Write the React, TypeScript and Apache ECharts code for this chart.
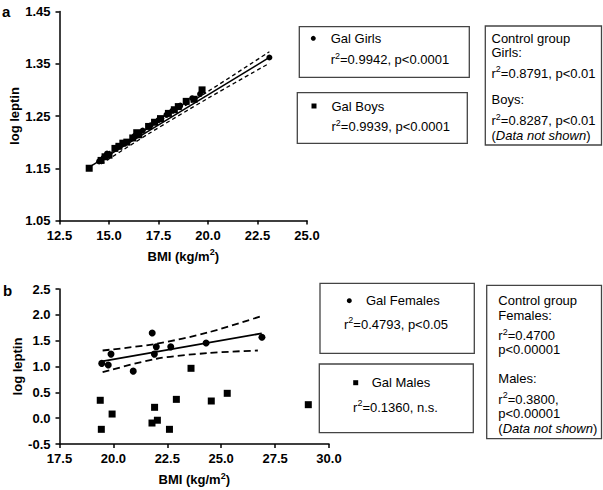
import React, { useEffect, useRef } from "react";
import * as echarts from "echarts";

const FONT = "'Liberation Sans', Arial, Helvetica, sans-serif";

// ---------- Panel a ----------
const xTicksA = [12.5, 15.0, 17.5, 20.0, 22.5, 25.0];
const yTicksA = [1.05, 1.15, 1.25, 1.35, 1.45];

const girlsBMI = [14.5, 14.9, 15.4, 15.8, 16.3, 16.7, 17.1, 17.5, 17.9, 18.2, 18.6, 18.9, 19.2, 19.6, 23.1];
const girlsLogLeptin = [1.163, 1.178, 1.19, 1.198, 1.212, 1.222, 1.232, 1.242, 1.252, 1.26, 1.27, 1.276, 1.284, 1.292, 1.362];

const boysBMI = [14.0, 14.6, 14.8, 15.0, 15.3, 15.5, 15.7, 15.9, 16.2, 16.4, 16.5, 17.0, 17.3, 17.6, 18.0, 18.3, 18.5, 18.9, 19.3, 19.7];
const boysLogLeptin = [1.15, 1.165, 1.172, 1.175, 1.188, 1.192, 1.198, 1.2, 1.208, 1.218, 1.214, 1.23, 1.238, 1.245, 1.255, 1.262, 1.268, 1.278, 1.282, 1.3];

const fitA_BMI = [14.0, 23.1];
const fitA_logLeptin = [1.152, 1.362];
const bandA_BMI = [14.6, 17.0, 20.0, 23.1];
const bandA_upper = [1.172, 1.227, 1.297, 1.373];
const bandA_lower = [1.158, 1.216, 1.284, 1.351];

// ---------- Panel b ----------
const xTicksB = [17.5, 20.0, 22.5, 25.0, 27.5, 30.0];
const yTicksB = [-0.5, 0.0, 0.5, 1.0, 1.5, 2.0, 2.5];

const femalesBMI = [19.46, 19.76, 19.89, 20.92, 21.8, 21.9, 21.99, 22.66, 24.3, 26.89];
const femalesLogLeptin = [1.06, 1.03, 1.24, 0.91, 1.65, 1.24, 1.38, 1.38, 1.455, 1.565];

const malesBMI = [19.39, 19.44, 19.94, 21.79, 21.91, 22.04, 22.6, 22.92, 23.6, 24.54, 25.28, 29.04];
const malesLogLeptin = [0.346, -0.216, 0.08, -0.094, 0.21, -0.04, -0.216, 0.364, 0.965, 0.332, 0.481, 0.261];

const fitB_BMI = [19.46, 26.88];
const fitB_logLeptin = [1.1, 1.64];
const bandB_upperBMI = [19.5, 22.0, 24.4, 26.9];
const bandB_upper = [1.31, 1.44, 1.66, 1.98];
const bandB_lowerBMI = [19.5, 22.0, 24.4, 26.7];
const bandB_lower = [0.89, 1.15, 1.26, 1.31];

const zip = (xs: number[], ys: number[]) => xs.map((x, i) => [x, ys[i]]);

const supRich = (size: number, bold: boolean) => ({
  b: { fontFamily: FONT, fontSize: size, fontWeight: bold ? "bold" : "normal", fill: "#000", color: "#000", lineHeight: size + 2, verticalAlign: "bottom" },
  s: { fontFamily: FONT, fontSize: size - 4, fontWeight: bold ? "bold" : "normal", fill: "#000", color: "#000", lineHeight: size - 6, verticalAlign: "top" },
  n: { fontFamily: FONT, fontSize: size, fill: "#000", color: "#000", lineHeight: size + 1 },
  i: { fontFamily: FONT, fontSize: size, fontStyle: "italic", fill: "#000", color: "#000", lineHeight: size + 1 },
});

const axisCommon = {
  splitLine: { show: false },
  nameTextStyle: {
    fontFamily: FONT,
    fontSize: 13,
    fontWeight: "bold" as const,
    color: "#000",
    rich: supRich(13, true),
  },
};
const lineStyleAxis = { show: true, onZero: false, lineStyle: { color: "#000", width: 1.5 } };
const tickStyle = { show: true, length: 4, lineStyle: { color: "#000", width: 1.5 } };

const labelStyle = (digits: number, margin: number) => ({
  fontFamily: FONT,
  fontSize: 13,
  fontWeight: "bold" as const,
  color: "#000",
  margin,
  formatter: (v: number) => Number(v).toFixed(digits),
});

const textEl = (x: number, y: number, text: string, extra: any = {}) => ({
  type: "text",
  style: {
    x,
    y,
    text,
    fontFamily: FONT,
    fontSize: 13,
    fill: "#000",
    align: "left",
    verticalAlign: "middle",
    ...extra,
  },
});

const rText = (x: number, y: number, rest: string, align = "left") => ({
  type: "text",
  style: {
    x,
    y,
    text: "{b|r}{s|2}{b|" + rest + "}",
    fontFamily: FONT,
    fontSize: 13,
    fill: "#000",
    align,
    verticalAlign: "middle",
    rich: supRich(13, false),
  },
});

const rectEl = (x1: number, y1: number, x2: number, y2: number) => ({
  type: "rect",
  shape: { x: x1, y: y1, width: x2 - x1, height: y2 - y1 },
  style: { fill: "none", stroke: "#444", lineWidth: 1.3 },
});

const notShown = (x: number, y: number) => ({
  type: "text",
  style: {
    x,
    y,
    text: "{n|(}{i|Data not shown}{n|)}",
    fill: "#000",
    fontFamily: FONT,
    fontSize: 13,
    align: "left",
    verticalAlign: "middle",
    rich: supRich(13, false),
  },
});

const bmiName = "{b|BMI (kg/m}{s|2}{b|)}";

const option: any = {
  animation: false,
  backgroundColor: "#fff",
  grid: [
    { left: 59.5, top: 11.5, width: 247.5, height: 209, containLabel: false },
    { left: 59.5, top: 289, width: 269.5, height: 155, containLabel: false },
  ],
  xAxis: [
    {
      ...axisCommon,
      type: "value",
      gridIndex: 0,
      min: 12.5,
      max: 25,
      interval: 2.5,
      name: bmiName,
      nameLocation: "middle",
      nameGap: 27,
      axisLine: lineStyleAxis,
      axisLabel: { ...labelStyle(1, 8), customValues: xTicksA },
      axisTick: { ...tickStyle, customValues: xTicksA },
    },
    {
      ...axisCommon,
      type: "value",
      gridIndex: 1,
      min: 17.5,
      max: 30,
      interval: 2.5,
      name: bmiName,
      nameLocation: "middle",
      nameGap: 27,
      axisLine: lineStyleAxis,
      axisLabel: { ...labelStyle(1, 8), customValues: xTicksB },
      axisTick: { ...tickStyle, customValues: xTicksB },
    },
  ],
  yAxis: [
    {
      ...axisCommon,
      type: "value",
      gridIndex: 0,
      min: 1.05,
      max: 1.45,
      name: "{b|log leptin}",
      nameLocation: "middle",
      nameGap: 32,
      axisLine: lineStyleAxis,
      axisLabel: { ...labelStyle(2, 9), customValues: yTicksA },
      axisTick: { ...tickStyle, customValues: yTicksA },
    },
    {
      ...axisCommon,
      type: "value",
      gridIndex: 1,
      min: -0.5,
      max: 2.5,
      interval: 0.5,
      name: "{b|log leptin}",
      nameLocation: "middle",
      nameGap: 32,
      axisLine: lineStyleAxis,
      axisLabel: { ...labelStyle(1, 9), customValues: yTicksB },
      axisTick: { ...tickStyle, customValues: yTicksB },
    },
  ],
  series: [
    // Panel a
    {
      type: "scatter",
      name: "Gal Boys",
      xAxisIndex: 0,
      yAxisIndex: 0,
      symbol: "rect",
      symbolSize: 7,
      itemStyle: { color: "#000", opacity: 1 },
      data: zip(boysBMI, boysLogLeptin),
    },
    {
      type: "scatter",
      name: "Gal Girls",
      xAxisIndex: 0,
      yAxisIndex: 0,
      symbol: "circle",
      symbolSize: 6,
      itemStyle: { color: "#000", opacity: 1 },
      data: zip(girlsBMI, girlsLogLeptin),
    },
    {
      type: "line",
      xAxisIndex: 0,
      yAxisIndex: 0,
      showSymbol: false,
      lineStyle: { color: "#000", width: 1.5 },
      data: zip(fitA_BMI, fitA_logLeptin),
    },
    {
      type: "line",
      xAxisIndex: 0,
      yAxisIndex: 0,
      showSymbol: false,
      smooth: 0.3,
      lineStyle: { color: "#000", width: 1.3, type: [4, 3] },
      data: zip(bandA_BMI, bandA_upper),
    },
    {
      type: "line",
      xAxisIndex: 0,
      yAxisIndex: 0,
      showSymbol: false,
      smooth: 0.3,
      lineStyle: { color: "#000", width: 1.3, type: [4, 3] },
      data: zip(bandA_BMI, bandA_lower),
    },
    // Panel b
    {
      type: "scatter",
      name: "Gal Females",
      xAxisIndex: 1,
      yAxisIndex: 1,
      symbol: "circle",
      symbolSize: 7,
      itemStyle: { color: "#000", opacity: 1 },
      data: zip(femalesBMI, femalesLogLeptin),
    },
    {
      type: "scatter",
      name: "Gal Males",
      xAxisIndex: 1,
      yAxisIndex: 1,
      symbol: "rect",
      symbolSize: 7,
      itemStyle: { color: "#000", opacity: 1 },
      data: zip(malesBMI, malesLogLeptin),
    },
    {
      type: "line",
      xAxisIndex: 1,
      yAxisIndex: 1,
      showSymbol: false,
      lineStyle: { color: "#000", width: 1.8 },
      data: zip(fitB_BMI, fitB_logLeptin),
    },
    {
      type: "line",
      xAxisIndex: 1,
      yAxisIndex: 1,
      showSymbol: false,
      smooth: 0.3,
      lineStyle: { color: "#000", width: 1.8, type: [7, 4] },
      data: zip(bandB_upperBMI, bandB_upper),
    },
    {
      type: "line",
      xAxisIndex: 1,
      yAxisIndex: 1,
      showSymbol: false,
      smooth: 0.3,
      lineStyle: { color: "#000", width: 1.8, type: [7, 4] },
      data: zip(bandB_lowerBMI, bandB_lower),
    },
  ],
  graphic: [
    // panel letters
    textEl(2, 11, "a", { fontSize: 15, fontWeight: "bold" }),
    textEl(3, 290, "b", { fontSize: 15, fontWeight: "bold" }),

    // Panel a legend boxes
    rectEl(299.3, 26.7, 469.3, 77.3),
    { type: "circle", shape: { cx: 313.3, cy: 38.3, r: 2.5 }, style: { fill: "#000" } },
    textEl(330.7, 38.3, "Gal Girls"),
    rText(330.7, 58.5, "=0.9942, p<0.0001"),

    rectEl(297.3, 92.7, 467.3, 143.3),
    { type: "rect", shape: { x: 311.5, y: 103.5, width: 5, height: 5 }, style: { fill: "#000" } },
    textEl(331.5, 106, "Gal Boys"),
    rText(331.5, 125.5, "=0.9939, p<0.0001"),

    rectEl(485.3, 26, 601.5, 145),
    textEl(491.5, 38.3, "Control group"),
    textEl(491.5, 52, "Girls:"),
    rText(491.5, 72, "=0.8791, p<0.01"),
    textEl(491.5, 99.5, "Boys:"),
    rText(491.5, 119.5, "=0.8287, p<0.01"),
    notShown(491.5, 135.5),

    // Panel b legend boxes
    rectEl(320, 283.3, 474.3, 353.3),
    { type: "circle", shape: { cx: 349.3, cy: 300.7, r: 2.5 }, style: { fill: "#000" } },
    textEl(366, 300.7, "Gal Females"),
    rText(396, 323, "=0.4793, p<0.05", "center"),

    rectEl(319.3, 364, 473.3, 432.7),
    { type: "rect", shape: { x: 353.2, y: 380.2, width: 5, height: 5 }, style: { fill: "#000" } },
    textEl(371.7, 382.7, "Gal Males"),
    rText(395.5, 406, "=0.1360, n.s.", "center"),

    rectEl(486.7, 285.3, 601.5, 438.7),
    textEl(498.3, 300.7, "Control group"),
    textEl(498.3, 315.5, "Females:"),
    rText(498.3, 334.5, "=0.4700"),
    textEl(498.3, 349.5, "p<0.00001"),
    textEl(498.3, 378.7, "Males:"),
    rText(498.3, 398, "=0.3800,"),
    textEl(498.3, 413.3, "p<0.00001"),
    notShown(498.3, 428.7),
  ],
};

export default function App() {
  const ref = useRef<HTMLDivElement>(null);
  useEffect(() => {
    const chart = echarts.init(ref.current!, null, { renderer: "svg" });
    chart.setOption(option);
    return () => chart.dispose();
  }, []);
  return (
    <div
      ref={ref}
      style={{ position: "absolute", left: 0, top: 0, width: 603, height: 490, background: "#fff" }}
    />
  );
}
